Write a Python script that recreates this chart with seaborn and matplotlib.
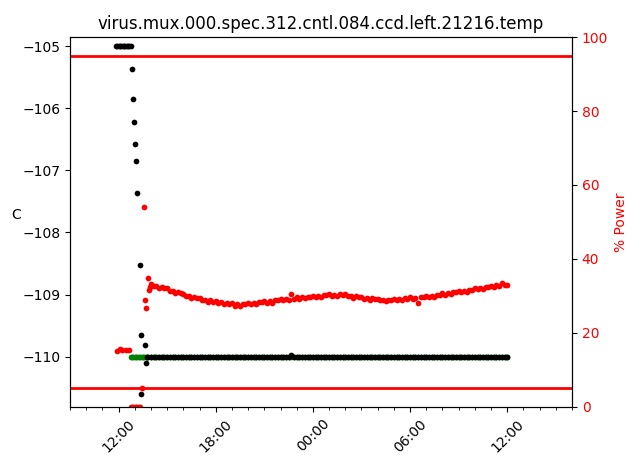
import pandas as pd
import matplotlib
matplotlib.use("Agg")
import matplotlib.pyplot as plt
import matplotlib.dates as mdates
import seaborn as sns

# Constants
TITLE = "virus.mux.000.spec.312.cntl.084.ccd.left.21216.temp"
DAY1 = "2021-08-04"
DAY2 = "2021-08-05"

# Temperature while cooling down (day 1)
startup_times = ["11:50", "11:55", "12:00", "12:05", "12:10", "12:15", "12:20",
                 "12:25", "12:30", "12:35", "12:40", "12:45", "12:48", "12:52",
                 "12:56", "13:00", "13:03", "13:10", "13:18", "13:22", "13:24",
                 "13:38", "13:40", "13:45", "13:50"]
startup_temp = [-105.0, -105.0, -105.0, -105.0, -105.0, -105.0, -105.0,
                -105.0, -105.0, -105.0, -105.0, -105.0, -105.37, -105.85,
                -106.22, -106.57, -106.85, -107.36, -108.52, -109.65, -110.6,
                -109.82, -110.11, -110.0, -110.0]

# Heater power while cooling down (day 1)
power_start_times = ["11:54", "12:04", "12:14", "12:29", "12:40", "12:45",
                     "12:50", "12:55", "13:00", "13:05", "13:10", "13:15",
                     "13:20", "13:25", "13:34", "13:38", "13:43", "13:49",
                     "13:53", "13:56"]
power_start = [15.2, 15.7, 15.4, 15.4, 15.3, 0.0,
               0.0, 0.0, 0.0, 0.0, 0.0, 0.0,
               0.0, 5.0, 54.0, 28.9, 26.7, 34.8,
               31.6, 32.5]

# Setpoint while cooling down
setpoint_times = ["12:45", "12:50", "12:55", "13:00", "13:05", "13:10",
                  "13:15", "13:20", "13:25", "13:30", "13:35", "13:40", "13:45"]
setpoint_start = [-110.0, -110.0, -110.0, -110.0, -110.0, -110.0,
                  -110.0, -110.0, -110.0, -110.0, -110.0, -110.0, -110.0]

# Regulated period, one sample every 10 minutes from 14:00 to 12:00 next day
steady_temp = [
    -110.0, -110.0, -110.0, -110.0, -110.0, -110.0,    # 14
    -110.0, -110.0, -110.0, -110.0, -110.0, -110.0,    # 15
    -110.0, -110.0, -110.0, -110.0, -110.0, -110.0,    # 16
    -110.0, -110.0, -110.0, -110.0, -110.0, -110.0,    # 17
    -110.0, -110.0, -110.0, -110.0, -110.01, -110.0,   # 18
    -110.0, -110.0, -110.0, -110.0, -110.0, -110.0,    # 19
    -110.0, -110.0, -110.0, -110.0, -110.0, -110.0,    # 20
    -110.0, -110.0, -110.0, -110.0, -110.0, -110.0,    # 21
    -110.0, -110.0, -110.0, -110.0, -109.98, -110.0,   # 22
    -110.0, -110.0, -110.0, -110.0, -110.0, -110.0,    # 23
    -110.0, -110.0, -110.0, -110.0, -110.0, -110.0,    # 00
    -110.0, -110.0, -110.0, -110.0, -110.0, -110.0,    # 01
    -110.0, -110.0, -110.0, -110.0, -110.0, -110.0,    # 02
    -110.0, -110.0, -110.0, -110.0, -110.0, -110.0,    # 03
    -110.0, -110.0, -110.0, -110.0, -110.0, -110.0,    # 04
    -110.0, -110.0, -110.0, -110.0, -110.0, -110.0,    # 05
    -110.0, -110.0, -110.0, -110.0, -110.0, -110.0,    # 06
    -110.0, -110.0, -110.0, -110.0, -110.0, -110.0,    # 07
    -110.0, -110.0, -110.0, -110.0, -110.0, -110.0,    # 08
    -110.0, -110.0, -110.0, -110.0, -110.0, -110.0,    # 09
    -110.0, -110.0, -110.0, -110.0, -110.0, -110.0,    # 10
    -110.0, -110.0, -110.0, -110.0, -110.0, -110.0,    # 11
    -110.0,                                            # 12
]
steady_power = [
    33.3, 32.7, 32.7, 32.2, 32.4, 32.1,   # 14
    32.1, 31.4, 31.4, 30.9, 31.1, 30.8,   # 15
    30.6, 29.9, 30.0, 29.5, 29.8, 29.5,   # 16
    29.5, 28.9, 29.0, 28.4, 28.8, 28.5,   # 17
    28.7, 28.0, 28.3, 27.7, 28.2, 27.9,   # 18
    28.1, 27.4, 27.8, 27.2, 27.8, 27.7,   # 19
    28.1, 27.7, 28.2, 27.7, 28.4, 28.3,   # 20
    28.7, 28.2, 28.7, 28.2, 28.9, 28.8,   # 21
    29.2, 28.8, 29.2, 29.0, 30.6, 29.3,   # 22
    29.7, 29.3, 29.6, 29.4, 29.8, 29.8,   # 23
    30.1, 29.7, 30.1, 29.7, 30.3, 30.2,   # 00
    30.5, 30.1, 30.3, 30.0, 30.6, 30.3,   # 01
    30.5, 29.9, 30.1, 29.5, 29.9, 29.6,   # 02
    29.7, 29.2, 29.4, 28.9, 29.4, 29.1,   # 03
    29.3, 28.8, 29.0, 28.6, 29.0, 28.9,   # 04
    29.2, 28.8, 29.1, 28.8, 29.4, 29.3,   # 05
    29.7, 29.1, 29.5, 28.0, 29.7, 29.6,   # 06
    30.0, 29.6, 30.0, 29.8, 30.4, 30.3,   # 07
    30.7, 30.3, 30.7, 30.5, 31.0, 31.0,   # 08
    31.3, 31.0, 31.4, 31.2, 31.7, 31.7,   # 09
    32.1, 31.8, 32.1, 31.9, 32.5, 32.4,   # 10
    32.8, 32.5, 32.9, 32.7, 33.4, 33.0,   # 11
    32.9,                                 # 12
]


def build_frames():
    """Put the lists into data frames with real timestamps."""
    steady_times = pd.date_range(f"{DAY1} 14:00", f"{DAY2} 12:00", freq="10min")

    temp = pd.DataFrame({
        "time": list(pd.to_datetime([f"{DAY1} {t}" for t in startup_times])) + list(steady_times),
        "temp": startup_temp + steady_temp,
    })
    power = pd.DataFrame({
        "time": list(pd.to_datetime([f"{DAY1} {t}" for t in power_start_times])) + list(steady_times),
        "power": power_start + steady_power,
    })
    setpoint = pd.DataFrame({
        "time": list(pd.to_datetime([f"{DAY1} {t}" for t in setpoint_times])) + list(steady_times),
        "setpoint": setpoint_start + [-110.0 for _ in steady_times],
    })
    return temp, power, setpoint


def plot(temp, power, setpoint):
    fig = plt.figure(figsize=(6.28, 4.58), dpi=100)
    ax = fig.add_axes([0.1115, 0.1114, 0.7993, 0.8078])

    sns.scatterplot(data=setpoint, x="time", y="setpoint", color="green",
                    s=17, linewidth=0, ax=ax)
    sns.scatterplot(data=temp, x="time", y="temp", color="black",
                    s=17, linewidth=0, ax=ax)
    ax.set_ylim(-110.81, -104.855)
    ax.set_ylabel("C", rotation=0)
    ax.set_xlabel("")
    ax.set_title(TITLE)

    ax2 = ax.twinx()
    sns.scatterplot(data=power, x="time", y="power", color="red",
                    s=17, linewidth=0, ax=ax2)
    ax2.axhline(95, color="red", linewidth=2)
    ax2.axhline(5, color="red", linewidth=2)
    ax2.set_ylim(0, 100)
    ax2.set_ylabel("% Power", color="red")
    ax2.tick_params(axis="y", labelcolor="red")
    ax2.set_xlabel("")

    ax.set_xlim(pd.Timestamp(f"{DAY1} 09:00"), pd.Timestamp(f"{DAY2} 16:00"))
    ax.xaxis.set_major_locator(mdates.HourLocator(byhour=[0, 6, 12, 18]))
    ax.xaxis.set_minor_locator(mdates.HourLocator())
    ax.xaxis.set_major_formatter(mdates.DateFormatter("%H:%M"))
    plt.setp(ax.get_xticklabels(), rotation=45)

    fig.savefig("out.png", dpi=100)


if __name__ == "__main__":
    temp, power, setpoint = build_frames()
    plot(temp, power, setpoint)
